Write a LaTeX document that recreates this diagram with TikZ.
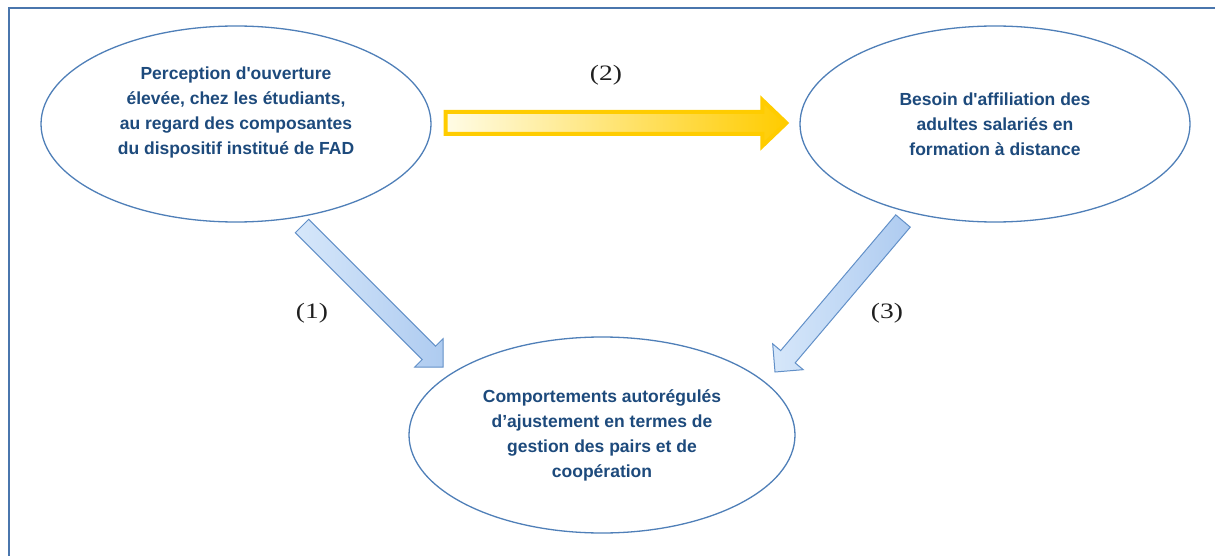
\documentclass[tikz,border=0pt]{standalone}
\usepackage{fontspec}
\setmainfont{Liberation Sans}[Ligatures=TeXOff]
\newfontfamily\lblfont{Liberation Serif}
\usetikzlibrary{calc,shapes.geometric}
\definecolor{framecol}{HTML}{4A76AD}
\definecolor{ellcol}{HTML}{4F7FB8}
\definecolor{txtcol}{HTML}{1D4A7C}
\definecolor{bluefillA}{HTML}{D6E7FA}
\definecolor{bluefillB}{HTML}{AECBF0}
\definecolor{bluedraw}{HTML}{6290C8}
\definecolor{goldcol}{HTML}{FFCC00}
\definecolor{paleyel}{HTML}{FFFCE6}
\newcommand\mkblockarrow[6]{%
  \coordinate (ba-hb) at ($(#3)!#6!(#2)$);
  \coordinate (ba-s1) at ($(#2)!#4!90:(#3)$);
  \coordinate (ba-s2) at ($(#2)!#4!-90:(#3)$);
  \coordinate (ba-b1) at ($(ba-hb)!#4!90:(#3)$);
  \coordinate (ba-b2) at ($(ba-hb)!#4!-90:(#3)$);
  \coordinate (ba-w1) at ($(ba-hb)!#5!90:(#3)$);
  \coordinate (ba-w2) at ($(ba-hb)!#5!-90:(#3)$);
  \draw[#1] (ba-s1) -- (ba-b1) -- (ba-w1) -- (#3) -- (ba-w2) -- (ba-b2) -- (ba-s2) -- cycle;
}
\tikzset{
  ell/.style={draw=ellcol, line width=1.3pt, fill=white, ellipse,
    minimum width=390pt, minimum height=196pt, inner sep=0pt},
  txt/.style={text=txtcol, align=center, inner sep=0pt,
    font=\bfseries\fontsize{17.5}{25}\selectfont},
  lbl/.style={text=black!88, inner sep=0pt,
    font=\lblfont\fontsize{22}{22}\selectfont},
  bluearrow/.style={draw=bluedraw, line width=1pt, line join=miter,
    left color=bluefillA, right color=bluefillB},
  yelarrow/.style={draw=goldcol, line width=4pt, line join=miter,
    left color=paleyel, middle color=paleyel!60!goldcol, right color=goldcol},
}
\begin{document}
\begin{tikzpicture}[x=1pt,y=-1pt]
\useasboundingbox (0,0) rectangle (1215,556);
\clip (0,0) rectangle (1215,556);
\draw[framecol, line width=2pt] (9,8) rectangle (1240,580);

\node[ell] (e1) at (236,124) {};
\node[ell] (e2) at (995,124) {};
\node[ell, minimum width=386pt] (e3) at (602,435) {};

\node[txt] (t1) at ([yshift=11.5pt]e1.center) {Perception d'ouverture\\élevée, chez les étudiants,\\au regard des composantes\\du dispositif institué de FAD};
\node[txt] (t2) at (e2.center) {Besoin d'affiliation des\\adultes salariés en\\formation à distance};
\node[txt] (t3) at (e3.center) {Comportements autorégulés\\d’ajustement en termes de\\gestion des pairs et de\\coopération};

\coordinate (ys) at ([xshift=14pt,yshift=1pt]e1.east);
\coordinate (ye) at ([xshift=-13pt,yshift=1pt]e2.west);
\mkblockarrow{yelarrow}{ys}{ye}{11pt}{23pt}{24pt}

\coordinate (a1s) at ([shift={(66,102)}]e1.center);
\coordinate (a1e) at ([shift={(-159,-68)}]e3.center);
\mkblockarrow{bluearrow}{a1s}{a1e}{9.5pt}{20pt}{20pt}

\coordinate (a3s) at ([shift={(-92,97)}]e2.center);
\coordinate (a3e) at ([shift={(173,-63)}]e3.center);
\mkblockarrow{bluearrow}{a3s}{a3e}{9.5pt}{20pt}{20pt}

\node[lbl] (l1) at (312,313) {\scalebox{1.25}[1]{(1)}};
\node[lbl] (l2) at (606,75) {\scalebox{1.25}[1]{(2)}};
\node[lbl] (l3) at (887,313) {\scalebox{1.25}[1]{(3)}};
\end{tikzpicture}
\end{document}
